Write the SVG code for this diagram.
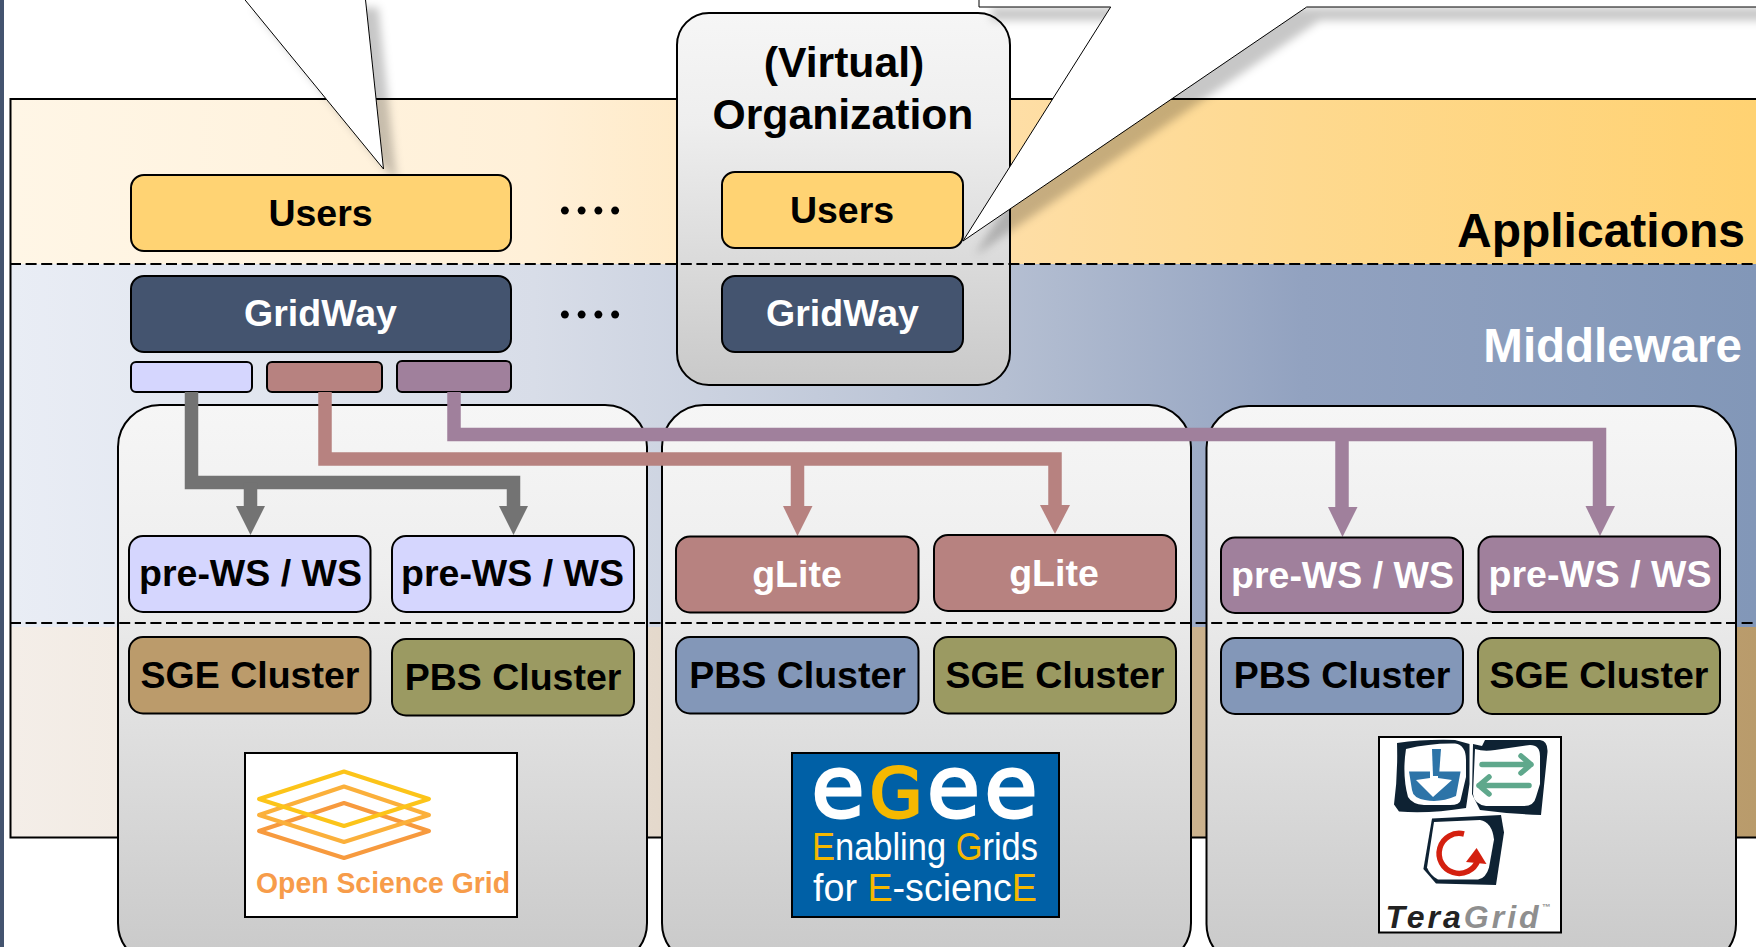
<svg xmlns="http://www.w3.org/2000/svg" width="1756" height="947" viewBox="0 0 1756 947">
<style>
text{font-family:"Liberation Sans",Arial,sans-serif;font-weight:700;text-anchor:middle;fill:#000}
.w{fill:#fff}
.n{stroke:#000;stroke-width:2}
.dash{stroke:#000;stroke-width:2;stroke-dasharray:11 4.600;fill:none}
.dom{fill:url(#gbox);stroke:#000;stroke-width:2}
.s{font-size:37.500px}
.dots{font-family:"Liberation Serif",serif;font-weight:400;font-size:67px}
.eg{font-family:"DejaVu Sans",sans-serif;font-weight:400;stroke-width:3;font-size:86px}
.nar{font-weight:400;font-size:38px;fill:#fff}
.y{fill:#f5b800}
.dk{fill:#0e2233}
</style>
<defs>
<linearGradient id="gapp" gradientUnits="userSpaceOnUse" x1="10" y1="0" x2="1756" y2="0"><stop offset="0" stop-color="#fff6e6"/><stop offset=".3" stop-color="#fff0d8"/><stop offset=".57" stop-color="#fedea6"/><stop offset=".74" stop-color="#fed98f"/><stop offset="1" stop-color="#ffd272"/></linearGradient>
<linearGradient id="gmid" gradientUnits="userSpaceOnUse" x1="10" y1="0" x2="1756" y2="0"><stop offset="0" stop-color="#e9edf5"/><stop offset=".3" stop-color="#d8dde8"/><stop offset=".57" stop-color="#b5bfd2"/><stop offset=".74" stop-color="#92a2c0"/><stop offset="1" stop-color="#8297b8"/></linearGradient>
<linearGradient id="gbot" gradientUnits="userSpaceOnUse" x1="10" y1="0" x2="1756" y2="0"><stop offset="0" stop-color="#f4eee8"/><stop offset=".3" stop-color="#ebe0d5"/><stop offset=".37" stop-color="#e4d9cc"/><stop offset=".68" stop-color="#cbb28d"/><stop offset="1" stop-color="#b99b6b"/></linearGradient>
<linearGradient id="gbox" x1="0" y1="0" x2="0" y2="1"><stop offset="0" stop-color="#f6f6f6"/><stop offset=".3" stop-color="#eeeeee"/><stop offset="1" stop-color="#c9c9c9"/></linearGradient>
<filter id="sh" x="-20%" y="-20%" width="150%" height="150%"><feDropShadow dx="13" dy="13" stdDeviation="4" flood-color="#000" flood-opacity=".22"/></filter>
</defs>

<rect x="0" y="0" width="4" height="947" fill="#44546f"/>

<g id="layers">
<rect x="10" y="99" width="1746" height="165" fill="url(#gapp)"/>
<rect x="10" y="264" width="1746" height="363" fill="url(#gmid)"/>
<rect x="10" y="627" width="1746" height="210" fill="url(#gbot)"/>
<path d="M1756 99H10.500V837.500H1756" fill="none" stroke="#000" stroke-width="2"/>
<text x="1745" y="247" style="font-size:48px;text-anchor:end">Applications</text>
<text x="1742" y="362" class="w" style="font-size:47.500px;text-anchor:end">Middleware</text>
</g>

<g id="callout-users" filter="url(#sh)">
<path d="M241 -5L383.500 169L365 -5Z" fill="#fff" stroke="#000" stroke-width="1"/>
</g>

<g id="users-a">
<rect class="n" x="131" y="175" width="380" height="76" rx="13" fill="#ffd373"/>
<text class="s" x="320.500" y="226">Users</text>
</g>
<g id="gridway-a">
<rect class="n" x="131" y="276" width="380" height="76" rx="13" fill="#44546f"/>
<text class="s w" x="320.500" y="326">GridWay</text>
</g>
<text class="dots" x="590" y="214">....</text>
<text class="dots" x="590" y="318">....</text>
<g id="adapter-1"><rect class="n" x="131" y="362" width="121" height="30" rx="5" fill="#d5d6fe"/></g>
<g id="adapter-2"><rect class="n" x="267" y="362" width="115" height="30" rx="5" fill="#b78280"/></g>
<g id="adapter-3"><rect class="n" x="397" y="361" width="114" height="31" rx="5" fill="#a0809c"/></g>

<g id="org-b">
<rect class="dom" x="677" y="13" width="333" height="372" rx="32"/>
<text x="844" y="77" style="font-size:42.700px">(Virtual)</text>
<text x="843" y="129" style="font-size:42.700px">Organization</text>
<rect class="n" x="722" y="172" width="241" height="76" rx="13" fill="#ffd373"/>
<text class="s" x="842" y="223">Users</text>
<rect class="n" x="722" y="276" width="241" height="76" rx="13" fill="#44546f"/>
<text class="s w" x="842.500" y="326">GridWay</text>
</g>

<g id="callout-org" filter="url(#sh)">
<path d="M979 -5V7H1110.700L963 241L1306.700 7H1766V-5Z" fill="#fff" stroke="#000" stroke-width="1"/>
</g>

<g id="domain-osg"><rect class="dom" x="118" y="405" width="529" height="560" rx="42"/></g>
<g id="domain-egee"><rect class="dom" x="662" y="405" width="529" height="560" rx="42"/></g>
<g id="domain-tg"><rect class="dom" x="1206.500" y="406" width="529.500" height="560" rx="42"/></g>

<path class="dash" d="M10 264H1756"/>
<path class="dash" d="M10 623H1756"/>

<g id="connectors" fill="none" stroke-width="13.500" stroke-linejoin="miter">
<g stroke="#737373"><path d="M191.500 392V482.500H513.500V508"/><path d="M250.500 482.500V508"/></g>
<g stroke="#b78280"><path d="M325 392V459H1055V507"/><path d="M797.500 459V508"/></g>
<g stroke="#a0809c"><path d="M454 392V434.500H1599.500V508"/><path d="M1342 434.500V509"/></g>
<path d="M236 506H265L250.500 535Z" fill="#737373"/>
<path d="M499 506H528L513.500 535Z" fill="#737373"/>
<path d="M783 506H812.500L797.500 536Z" fill="#b78280"/>
<path d="M1040 505H1070L1055 534Z" fill="#b78280"/>
<path d="M1328 507H1357.500L1342.500 537Z" fill="#a0809c"/>
<path d="M1585.500 506H1615L1600 536Z" fill="#a0809c"/>
</g>

<g id="osg-ws1"><rect class="n" x="129" y="536" width="241.500" height="76" rx="14" fill="#d5d6fe"/><text class="s" x="250.500" y="586">pre-WS / WS</text></g>
<g id="osg-ws2"><rect class="n" x="392" y="536" width="242" height="76" rx="14" fill="#d5d6fe"/><text class="s" x="512.500" y="586">pre-WS / WS</text></g>
<g id="osg-sge"><rect class="n" x="129" y="637" width="241.500" height="76.500" rx="14" fill="#bb9b6b"/><text class="s" x="250" y="687.500">SGE Cluster</text></g>
<g id="osg-pbs"><rect class="n" x="392" y="639" width="242" height="76.500" rx="14" fill="#9b9a62"/><text class="s" x="513" y="689.500">PBS Cluster</text></g>

<g id="egee-glite1"><rect class="n" x="676" y="536.500" width="242.500" height="76" rx="14" fill="#b78280"/><text class="s w" x="797" y="586.500">gLite</text></g>
<g id="egee-glite2"><rect class="n" x="934" y="535" width="242" height="76" rx="14" fill="#b78280"/><text class="s w" x="1054" y="585.500">gLite</text></g>
<g id="egee-pbs"><rect class="n" x="676" y="637" width="242.500" height="76.500" rx="14" fill="#8397b8"/><text class="s" x="797.500" y="687.500">PBS Cluster</text></g>
<g id="egee-sge"><rect class="n" x="934" y="637" width="242" height="76.500" rx="14" fill="#9b9a62"/><text class="s" x="1055" y="687.500">SGE Cluster</text></g>

<g id="tg-ws1"><rect class="n" x="1221" y="537.500" width="242" height="75.500" rx="14" fill="#a0809c"/><text class="s w" x="1342.500" y="587.500">pre-WS / WS</text></g>
<g id="tg-ws2"><rect class="n" x="1478.500" y="536.500" width="241.500" height="75.500" rx="14" fill="#a0809c"/><text class="s w" x="1600" y="586.500">pre-WS / WS</text></g>
<g id="tg-pbs"><rect class="n" x="1221" y="638" width="242" height="76" rx="14" fill="#8397b8"/><text class="s" x="1342" y="688">PBS Cluster</text></g>
<g id="tg-sge"><rect class="n" x="1478" y="638" width="242" height="76" rx="14" fill="#9b9a62"/><text class="s" x="1599" y="688">SGE Cluster</text></g>

<g id="logo-osg">
<rect x="245" y="753" width="272" height="164" fill="#fff" stroke="#000" stroke-width="2"/>
<g fill="none" stroke-width="4" stroke-linejoin="round">
<path d="M259 831L344 803L429 831L344 858Z" stroke="#f79a3e"/>
<path d="M259 815L344 786.500L429 815L344 842Z" stroke="#fbb03b"/>
<path d="M259 799L344 771.500L429 799L344 826Z" stroke="#fcc419"/>
</g>
<text x="383" y="892.500" textLength="254" lengthAdjust="spacingAndGlyphs" style="font-size:29px;fill:#f79c4a">Open Science Grid</text>
</g>

<g id="logo-egee">
<rect x="792" y="753" width="267" height="164" fill="#0060a6" stroke="#000" stroke-width="2"/>
<text class="eg"><tspan x="838" y="817" fill="#fff" stroke="#fff">e</tspan><tspan x="896" y="817" font-size="68" fill="#f5b800" stroke="#f5b800">G</tspan><tspan x="953.500" y="817" fill="#fff" stroke="#fff">e</tspan><tspan x="1011" y="817" fill="#fff" stroke="#fff">e</tspan></text>
<text class="nar" x="925" y="860" textLength="226" lengthAdjust="spacingAndGlyphs"><tspan class="y">E</tspan>nabling <tspan class="y">G</tspan>rids</text>
<text class="nar" x="925" y="900.500" textLength="224" lengthAdjust="spacingAndGlyphs">for <tspan class="y">E</tspan>-scienc<tspan class="y">E</tspan></text>
</g>

<g id="logo-teragrid">
<rect x="1379" y="737" width="182" height="195.500" fill="#fff" stroke="#000" stroke-width="2"/>
<path class="dk" d="M1397 743Q1425 739 1455 740L1469.500 744V784L1466 808Q1430 814 1399 811.600L1394 804.600Q1398 775 1397 743Z"/>
<path fill="#fff" d="M1406 749Q1430 743 1455 743.500Q1466 745 1466 760V777L1460.600 800Q1460 805 1450 805H1424Q1412 804 1408 797Q1402 775 1406 749Z"/>
<path fill="#2d74a8" d="M1409 771.500H1460.600L1456 796Q1440 803 1425 800Q1413 798 1412 790Z"/>
<path fill="#fff" d="M1430 765H1438V778L1452 780L1433 797L1416 780L1430 778Z"/>
<path fill="#2d74a8" d="M1432 749H1441L1439 776H1433Z"/>
<path class="dk" d="M1485 740H1540Q1548 741 1547.500 752L1541 815Q1510 814 1480 810L1472 794L1473 744L1482 746Z"/>
<path fill="#fff" d="M1475 749Q1484 752 1495 750L1530 745Q1540 745 1540 756V784L1536 797Q1534 806 1524 806H1486Q1474 804 1473 794Z"/>
<g fill="none" stroke="#5fa88c" stroke-width="5.500" stroke-linecap="round" stroke-linejoin="round">
<path d="M1482 764.500H1531M1521 756L1531 764.500L1521 773"/>
<path d="M1529 785.500H1479M1489 777L1479 785.500L1489 794"/>
</g>
<path class="dk" d="M1432 818.500L1501 815L1504 832.500L1496 885L1436 883.500L1423.400 869Z"/>
<path fill="#fff" d="M1434 822L1480 820Q1492 822 1494 839.500L1489 867.400Q1486 878 1478 879.600H1438Q1430 875 1427 867.400Z"/>
<path d="M1464 834A20 20 0 1 0 1478 860" fill="none" stroke="#d4200f" stroke-width="5.500"/>
<path d="M1476.600 848L1486.500 864L1466 862Z" fill="#d4200f"/>
<text x="1469.500" y="928" style="font-size:32px;font-style:italic;letter-spacing:3px"><tspan fill="#222">Tera</tspan><tspan fill="#8f8f8f">Grid</tspan><tspan fill="#8f8f8f" font-size="9" dy="-18">™</tspan></text>
</g>
</svg>
